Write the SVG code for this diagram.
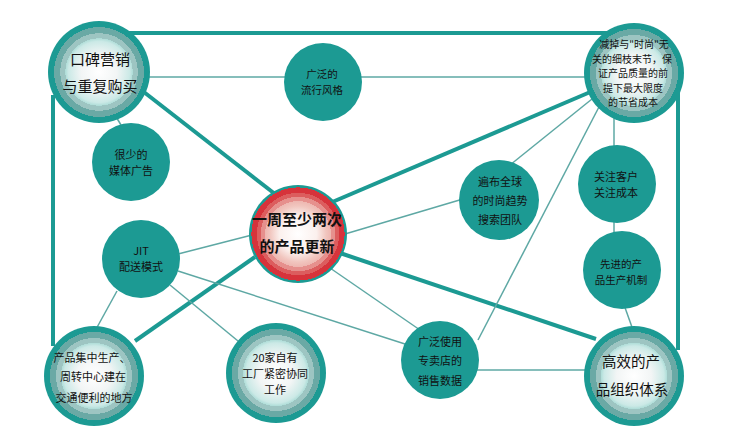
<svg xmlns="http://www.w3.org/2000/svg" width="732" height="438" viewBox="0 0 732 438">
<defs>
<radialGradient id="ring">
<stop offset="0" stop-color="#ffffff"/>
<stop offset="0.35" stop-color="#f2f5f5"/>
<stop offset="0.6" stop-color="#cbe9e6"/>
<stop offset="0.66" stop-color="#afddd8"/>
<stop offset="0.66" stop-color="#9dc5c2"/>
<stop offset="0.76" stop-color="#9dc5c2"/>
<stop offset="0.76" stop-color="#6aa9a5"/>
<stop offset="0.88" stop-color="#6aa9a5"/>
<stop offset="0.88" stop-color="#1c9a93"/>
<stop offset="1" stop-color="#1c9a93"/>
</radialGradient>
<radialGradient id="red">
<stop offset="0" stop-color="#ffffff"/>
<stop offset="0.38" stop-color="#fbf0ed"/>
<stop offset="0.57" stop-color="#f1c6bf"/>
<stop offset="0.67" stop-color="#eeb7b1"/>
<stop offset="0.67" stop-color="#e6908d"/>
<stop offset="0.76" stop-color="#e6908d"/>
<stop offset="0.76" stop-color="#dc5d5e"/>
<stop offset="0.84" stop-color="#dc5d5e"/>
<stop offset="0.84" stop-color="#d6333b"/>
<stop offset="0.95" stop-color="#d6333b"/>
<stop offset="0.95" stop-color="#1c9a93"/>
<stop offset="1" stop-color="#1c9a93"/>
</radialGradient>
</defs>
<style>
.thick{stroke:#1c9a93;stroke-width:4;fill:none}
.thin{stroke:#5ea8a4;stroke-width:1.5;fill:none}
.solid{fill:#1c9a93}
.ringed{fill:url(#ring)}
.core{fill:url(#red)}
text{font-family:"Noto Sans CJK SC","Noto Sans",sans-serif;fill:#111;text-anchor:middle}
.s10{font-size:10px}
.s105{font-size:10.5px}
.s11{font-size:11px}
.s14{font-size:14.5px}
.s15{font-size:15px;font-weight:bold}
</style>
<rect width="732" height="438" fill="#ffffff"/>
<g id="connectors">
<line class="thick" x1="128" y1="33" x2="610" y2="33"/>
<line class="thick" x1="53" y1="95" x2="53" y2="346"/>
<line class="thick" x1="678" y1="88" x2="678" y2="350"/>
<line class="thick" x1="140" y1="89" x2="275" y2="194"/>
<line class="thick" x1="330" y1="203" x2="595" y2="90"/>
<line class="thick" x1="255" y1="257" x2="135" y2="341"/>
<line class="thick" x1="340" y1="253" x2="596" y2="339"/>
<line class="thin" x1="148" y1="77" x2="588" y2="77"/>
<line class="thin" x1="112" y1="110" x2="124" y2="130"/>
<line class="thin" x1="178" y1="254" x2="252" y2="235"/>
<line class="thin" x1="178" y1="271" x2="405" y2="344"/>
<line class="thin" x1="170" y1="285" x2="238" y2="341"/>
<line class="thin" x1="117" y1="291" x2="95" y2="331"/>
<line class="thin" x1="330" y1="268" x2="420" y2="330"/>
<line class="thin" x1="345" y1="234" x2="463" y2="199"/>
<line class="thin" x1="510" y1="165" x2="592" y2="99"/>
<line class="thin" x1="478" y1="340" x2="600" y2="105"/>
<line class="thin" x1="476" y1="370" x2="588" y2="370"/>
<line class="thin" x1="614" y1="112" x2="614" y2="150"/>
<line class="thin" x1="614" y1="218" x2="614" y2="236"/>
<line class="thin" x1="623" y1="302" x2="633" y2="330"/>
</g>
<g id="n1"><circle class="ringed" cx="99" cy="72" r="51"/>
<text x="100" y="65" style="font-size:15px">口碑营销</text>
<text x="100" y="92" style="font-size:15px">与重复购买</text></g>
<g id="n2"><circle class="solid" cx="323" cy="82" r="39"/>
<text class="s105" x="322" y="78">广泛的</text>
<text class="s105" x="322" y="94">流行风格</text></g>
<g id="n3"><circle class="ringed" cx="634" cy="73" r="50"/>
<text class="s10" x="634" y="48">减掉与"时尚"无</text>
<text class="s10" x="632" y="62.5">关的细枝末节，保</text>
<text class="s10" x="633" y="77">证产品质量的前</text>
<text class="s10" x="633" y="91.5">提下最大限度</text>
<text class="s10" x="633" y="106">的节省成本</text></g>
<g id="n4"><circle class="solid" cx="131" cy="162" r="39"/>
<text class="s11" x="131" y="159">很少的</text>
<text class="s11" x="131" y="175">媒体广告</text></g>
<g id="n5"><circle class="solid" cx="141" cy="259" r="39"/>
<text class="s11" x="141" y="255">JIT</text>
<text class="s11" x="141" y="271">配送模式</text></g>
<g id="n6"><circle class="core" cx="298" cy="234" r="49"/>
<text class="s15" x="297" y="225">一周至少两次</text>
<text class="s15" x="297" y="252">的产品更新</text></g>
<g id="n7"><circle class="solid" cx="499" cy="200" r="40"/>
<text class="s11" x="500" y="186">遍布全球</text>
<text class="s11" x="500" y="205">的时尚趋势</text>
<text class="s11" x="500" y="224">搜索团队</text></g>
<g id="n8"><circle class="solid" cx="617" cy="184" r="39"/>
<text class="s11" x="616" y="181">关注客户</text>
<text class="s11" x="616" y="197">关注成本</text></g>
<g id="n9"><circle class="solid" cx="622" cy="270" r="39"/>
<text class="s105" x="621" y="268">先进的产</text>
<text class="s105" x="621" y="284">品生产机制</text></g>
<g id="n10"><circle class="ringed" cx="94" cy="376" r="50"/>
<text class="s11" x="92" y="362">产品集中生产、</text>
<text class="s11" x="93" y="381">周转中心建在</text>
<text class="s11" x="94" y="402">交通便利的地方</text></g>
<g id="n11"><circle class="ringed" cx="276" cy="373" r="50"/>
<text class="s11" x="275" y="362">20家自有</text>
<text class="s11" x="275" y="378">工厂紧密协同</text>
<text class="s11" x="275" y="394">工作</text></g>
<g id="n12"><circle class="solid" cx="440" cy="360" r="39"/>
<text class="s11" x="440" y="346">广泛使用</text>
<text class="s11" x="440" y="365">专卖店的</text>
<text class="s11" x="440" y="385">销售数据</text></g>
<g id="n13"><circle class="ringed" cx="634" cy="376" r="50"/>
<text class="s14" x="631" y="367">高效的产</text>
<text class="s14" x="632" y="395">品组织体系</text></g>
</svg>
